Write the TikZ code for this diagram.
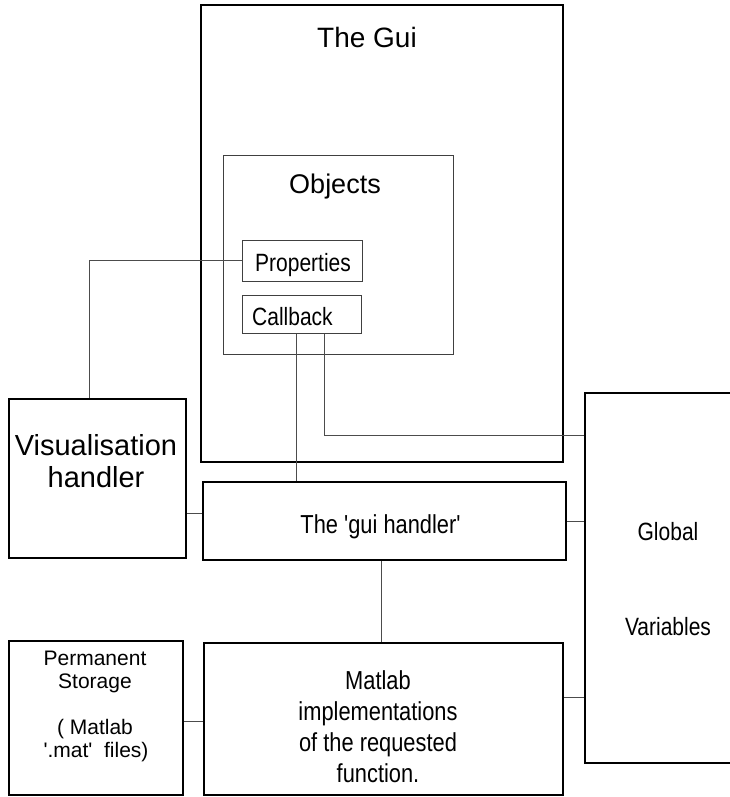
\documentclass[tikz,border=0pt]{standalone}
\usepackage{fontspec}
\setmainfont{Liberation Sans}[Ligatures=TeXOff]
\newfontfamily\nar{Liberation Sans}[FakeStretch=0.84,Ligatures=TeXOff]
\begin{document}
\begin{tikzpicture}[x=1pt,y=-1pt,
  thickbox/.style={draw=black, line width=2.2pt, inner sep=0pt, fill=none},
  thinbox/.style={draw=black!75, line width=1pt, inner sep=0pt},
  conn/.style={draw=black!70, line width=1pt},
  lbl/.style={inner sep=0pt, anchor=base, align=center}]
\useasboundingbox (0,0) rectangle (730,797);
\clip (0,0) rectangle (730,797);
% boxes
\node[thickbox, minimum width=362, minimum height=457] (gui) at (382,233.5) {};
\node[thinbox, minimum width=230, minimum height=199] (obj) at (338,254.5) {};
\node[thinbox, minimum width=120, minimum height=41] (prop) at (302,260.5) {};
\node[thinbox, minimum width=119, minimum height=38] (cb) at (301.5,314) {};
\node[thickbox, minimum width=177, minimum height=159] (vis) at (97.5,478.5) {};
\node[thickbox, minimum width=363, minimum height=78] (gh) at (384.5,521) {};
\node[thickbox, minimum width=160, minimum height=370] (glob) at (665,578) {};
\node[thickbox, minimum width=359, minimum height=152] (mat) at (383.5,719) {};
\node[thickbox, minimum width=174, minimum height=154] (perm) at (96,718) {};
% texts (base = baseline of the last line)
\node[lbl, font={\fontsize{28}{32}\selectfont}] (tgui) at (367,48) {The Gui};
\node[lbl, font={\fontsize{27}{32}\selectfont}] (tobj) at (335,193) {Objects};
\node[lbl, font={\nar\fontsize{25}{30}\selectfont}] (tprop) at (303,271) {Properties};
\node[lbl, anchor=base west, font={\nar\fontsize{25}{30}\selectfont}] (tcb) at (252,325) {Callback};
\node[lbl, font={\fontsize{29}{32}\selectfont}] (tvis) at (96,487) {Visualisation\\handler};
\node[lbl, font={\nar\fontsize{26}{30}\selectfont}] (tgh) at (380.5,533) {The 'gui handler'};
\node[lbl, font={\nar\fontsize{25}{30}\selectfont}] (tglob) at (668,540) {Global};
\node[lbl, font={\nar\fontsize{25}{30}\selectfont}] (tvar) at (668,635) {Variables};
\node[lbl, font={\nar\fontsize{26}{31}\selectfont}] (tmat) at (378,782) {Matlab\\implementations\\of the requested\\function.};
\node[lbl, font={\fontsize{21}{23}\selectfont}] (tperm) at (95,757) {Permanent\\Storage\\[23pt]( Matlab\\\hspace*{2pt}'.mat'\ \ files)};
% connectors
\draw[conn] (prop.west) -| ([xshift=-8.5]vis.north);
\draw[conn] ([xshift=-5.5]cb.south) -- ([xshift=-5.5]cb.south |- gh.north);
\draw[conn] ([xshift=22.5]cb.south) |- ([yshift=143]glob.west);
\draw[conn] ([yshift=-34.5]vis.east) -- ([yshift=-34.5]vis.east -| gh.west);
\draw[conn] (gh.east) -- (gh.east -| glob.west);
\draw[conn] ([xshift=-3.5]gh.south) -- ([xshift=-3.5]gh.south |- mat.north);
\draw[conn] ([yshift=22]mat.east) -- ([yshift=22]mat.east -| glob.west);
\draw[conn] ([yshift=-3]perm.east) -- ([yshift=-3]perm.east -| mat.west);
\end{tikzpicture}
\end{document}
